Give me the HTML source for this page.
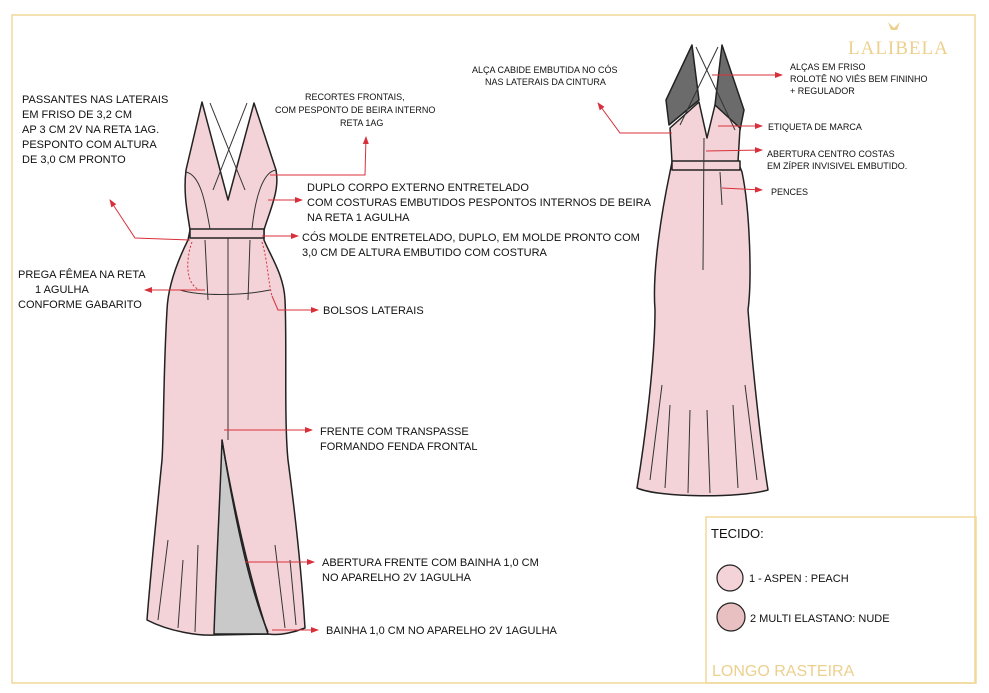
<!DOCTYPE html>
<html><head><meta charset="utf-8"><style>
html,body{margin:0;padding:0;background:#fff;}
svg{display:block;}
text{font-family:"Liberation Sans",sans-serif;font-size:11px;fill:#111;}
</style></head><body>
<svg width="989" height="693" viewBox="0 0 989 693" xmlns="http://www.w3.org/2000/svg">
<defs>
<marker id="a" markerWidth="8" markerHeight="8" refX="7" refY="4" orient="auto" markerUnits="userSpaceOnUse"><path d="M0,1 L8,4 L0,7z" fill="#d8303a"/></marker>
</defs>
<rect x="12" y="15" width="963" height="668" fill="none" stroke="#f0d89a" stroke-width="1.5"/>
<rect x="706" y="517" width="270" height="166" fill="none" stroke="#f0d89a" stroke-width="1.5"/>
<text x="848" y="54" style="font-family:'Liberation Serif',serif;font-size:19px;fill:#ecd08e;letter-spacing:1px">LALIBELA</text>
<path d="M888,22 l6,6 l6,-6 l-3,8 h-6z" fill="#ecd08e"/>

<!-- FRONT DRESS -->
<g stroke="#222" stroke-width="1.5" stroke-linejoin="round">
<path d="M202,102 L186,170 C183,195 188,215 190,230 L188,240 C178,260 168,285 167,310 C163,380 164,430 162,460 C156,520 150,580 147,620 C170,632 200,636 215,635 L268,634 C280,636 295,632 305,628 C302,580 296,520 288,460 C284,420 287,340 285,300 C284,275 270,255 264,240 L264,230 C270,210 280,190 276,170 L254,103 L228,200 Z" fill="#f3d3d7"/>
<path d="M222,440 C220,500 216,570 214,634 L268,634 C250,580 232,500 222,440 Z" fill="#c9c9c9"/>
<path d="M222,440 C235,520 250,590 268,632" fill="none"/>
<rect x="190" y="229" width="74" height="9" fill="#f3d3d7"/>
</g>
<g stroke="#333" stroke-width="1" fill="none">
<path d="M210,103 L245,190 M247,103 L213,190"/>
<path d="M186,172 C200,175 205,200 210,229 M276,170 C262,172 255,200 252,229"/>
<path d="M228,238 L228,440 M205,240 L208,300 M250,240 L248,300"/>
<path d="M180,290 C200,296 240,296 270,290"/>
</g>
<g stroke="#d8303a" stroke-width="1" fill="none" stroke-dasharray="2,2"><path d="M192,242 C185,262 186,285 200,290"/><path d="M262,242 C268,262 268,282 272,296"/></g>

<!-- BACK DRESS -->
<g stroke="#222" stroke-width="1.5" stroke-linejoin="round">
<path d="M692,45 L666,100 L669,125 L699,100 Z" fill="#6b6b6b"/>
<path d="M722,45 L744,110 L740,130 L715,105 Z" fill="#6b6b6b"/>
<path d="M670,128 L699,102 L707,138 L715,105 L740,128 L738,162 L742,172 C750,210 752,280 748,310 C752,360 760,440 768,490 C740,498 660,498 637,488 C645,440 655,360 655,310 C652,270 662,210 670,172 L672,162 Z" fill="#f3d3d7"/>
<rect x="672" y="161" width="68" height="9" fill="#f3d3d7"/>
</g>
<g stroke="#333" stroke-width="1" fill="none">
<path d="M696,47 L735,130 M718,47 L680,125"/>
<path d="M704,138 L703,270 M720,172 L722,205"/>
<path d="M662,385 L650,480 M670,405 L665,488 M690,410 L688,493 M707,410 L710,493 M733,405 L738,488 M745,385 L757,480"/>
<path d="M168,540 L158,620 M183,560 L178,628 M198,545 L195,632 M275,545 L285,628 M290,560 L296,625"/>
</g>

<!-- Connectors -->
<g stroke="#d8303a" stroke-width="1" fill="none" marker-end="url(#a)">
<path d="M270,175 L365,175 L366,137"/>
<path d="M268,200 L302,200"/>
<path d="M262,236 L298,236"/>
<path d="M190,240 L135,238 L110,200"/>
<path d="M205,290 L145,290"/>
<path d="M272,296 L278,310 L318,310"/>
<path d="M224,430 L312,430"/>
<path d="M245,562 L314,562"/>
<path d="M272,630 L318,630"/>
<path d="M672,133 L620,133 L598,103"/>
<path d="M712,75 L782,75"/>
<path d="M718,126 L762,126"/>
<path d="M706,151 L762,150"/>
<path d="M722,188 L762,190"/>
</g>

<!-- Labels -->
<text x="22" y="103">PASSANTES NAS LATERAIS</text>
<text x="22" y="118">EM FRISO DE 3,2 CM</text>
<text x="22" y="133">AP 3 CM 2V NA RETA 1AG.</text>
<text x="22" y="148">PESPONTO COM ALTURA</text>
<text x="22" y="163">DE 3,0 CM PRONTO</text>
<text x="18" y="278">PREGA FÊMEA NA RETA</text>
<text x="35" y="293">1 AGULHA</text>
<text x="18" y="308">CONFORME GABARITO</text>
<g style="font-size:9px"><text x="305" y="100" style="font-size:9px">RECORTES FRONTAIS,</text>
<text x="275" y="113" style="font-size:9px">COM PESPONTO DE BEIRA INTERNO</text>
<text x="340" y="126" style="font-size:9px">RETA 1AG</text></g>
<text x="307" y="191">DUPLO CORPO EXTERNO ENTRETELADO</text>
<text x="307" y="206">COM COSTURAS EMBUTIDOS PESPONTOS INTERNOS DE BEIRA</text>
<text x="307" y="221">NA  RETA 1 AGULHA</text>
<text x="302" y="241">CÓS MOLDE ENTRETELADO, DUPLO, EM MOLDE PRONTO COM</text>
<text x="302" y="256">3,0 CM DE ALTURA EMBUTIDO COM  COSTURA</text>
<text x="323" y="314">BOLSOS LATERAIS</text>
<text x="320" y="435">FRENTE COM TRANSPASSE</text>
<text x="320" y="450">FORMANDO FENDA FRONTAL</text>
<text x="322" y="566">ABERTURA FRENTE COM BAINHA 1,0 CM</text>
<text x="322" y="581">NO APARELHO 2V 1AGULHA</text>
<text x="326" y="634">BAINHA 1,0 CM NO APARELHO 2V 1AGULHA</text>
<g style="font-size:9px">
<text x="472" y="73" style="font-size:9px">ALÇA CABIDE EMBUTIDA NO CÓS</text>
<text x="485" y="85" style="font-size:9px">NAS LATERAIS DA CINTURA</text>
<text x="790" y="70" style="font-size:9px">ALÇAS EM FRISO</text>
<text x="790" y="82" style="font-size:9px">ROLOTÊ NO VIÉS BEM FININHO</text>
<text x="790" y="94" style="font-size:9px">+           REGULADOR</text>
<text x="768" y="130" style="font-size:9px">ETIQUETA DE MARCA</text>
<text x="767" y="157" style="font-size:9px">ABERTURA CENTRO COSTAS</text>
<text x="767" y="169" style="font-size:9px">EM ZÍPER INVISIVEL EMBUTIDO.</text>
<text x="771" y="195" style="font-size:9px">PENCES</text>
</g>
<text x="711" y="538" style="font-size:13px">TECIDO:</text>
<circle cx="730" cy="578" r="13" fill="#f3d3d7" stroke="#222" stroke-width="1.2"/>
<text x="749" y="582">1 - ASPEN : PEACH</text>
<circle cx="731" cy="617" r="14" fill="#e8c0c2" stroke="#222" stroke-width="1.2"/>
<text x="750" y="622">2  MULTI ELASTANO: NUDE</text>
<text x="712" y="676" style="font-size:16px;fill:#ecd08e">LONGO RASTEIRA</text>
</svg>
</body></html>
